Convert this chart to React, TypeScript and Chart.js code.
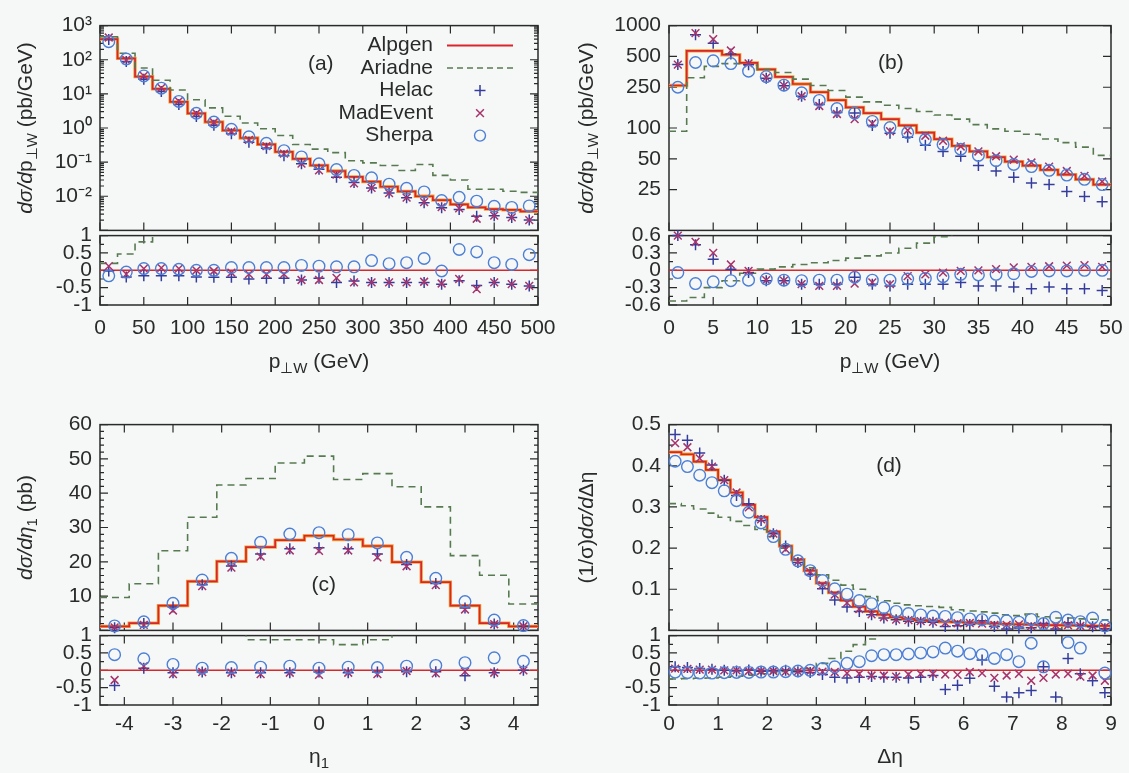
import React, { useEffect, useRef } from "react";
import { Chart, registerables } from "chart.js";

Chart.register(...registerables);

const FONT = '"Liberation Sans", Arimo, Arial, Helvetica, sans-serif';
const FS = 21;
const INK = "#2a2a2a";
const BG = "#f6f8f8";
const C_ALP = "#d8262b";
const C_ALP_HALO = "#f2a23a";
const C_ARI = "#587a50";
const C_HEL = "#353c9c";
const C_MAD = "#a8346c";
const C_SHE = "#4d7fd6";

const SERIES = ["Alpgen", "Ariadne", "Helac", "MadEvent", "Sherpa"];

// ---------------- panel (a): p_perp,W , 0-500 GeV ----------------
const ptA_edges = [0, 20, 40, 60, 80, 100, 120, 140, 160, 180, 200, 220, 240, 260, 280, 300, 320, 340, 360, 380, 400, 420, 440, 460, 480, 500];
const ptA_centers = [10, 30, 50, 70, 90, 110, 130, 150, 170, 190, 210, 230, 250, 270, 290, 310, 330, 350, 370, 390, 410, 430, 450, 470, 490];
const ptA_alpgen = [400, 110, 32, 14, 5.8, 2.7, 1.5, 0.85, 0.51, 0.33, 0.2, 0.125, 0.08, 0.055, 0.037, 0.027, 0.019, 0.014, 0.01, 0.0077, 0.0058, 0.0047, 0.0042, 0.004, 0.0036];
const ptA_ariadne = [470, 155, 57, 25, 13, 6.7, 3.9, 2.2, 1.4, 0.95, 0.6, 0.33, 0.24, 0.19, 0.11, 0.095, 0.08, 0.057, 0.085, 0.041, 0.03, 0.016, 0.016, 0.014, 0.013];
const ptA_helac = [392, 89, 26.9, 11.8, 4.9, 2.19, 1.2, 0.68, 0.38, 0.254, 0.154, 0.09, 0.0616, 0.0358, 0.0255, 0.0176, 0.0124, 0.0091, 0.0065, 0.0046, 0.0041, 0.0026, 0.0027, 0.0024, 0.002];
const ptA_madevent = [448, 98, 33.6, 15.0, 6.1, 2.7, 1.47, 0.79, 0.45, 0.294, 0.178, 0.09, 0.0576, 0.0429, 0.024, 0.0176, 0.0124, 0.0091, 0.0067, 0.0048, 0.0044, 0.0022, 0.0027, 0.0024, 0.002];
const ptA_sherpa = [336, 105, 33.6, 14.7, 6.0, 2.7, 1.5, 0.92, 0.55, 0.356, 0.216, 0.1425, 0.0896, 0.0605, 0.0407, 0.0346, 0.0226, 0.0171, 0.0134, 0.0075, 0.0093, 0.0072, 0.0051, 0.0047, 0.0052];
const ptA_rAriadne = [0.2, 0.47, 0.82, 1.1, 1.24, 1.48, 1.6, 1.59, 1.75, 1.88, 2.0, 1.64, 2.0, 2.45, 1.97, 2.5, 3.2, 3.07, 7.0, 4.3, 4.2, 2.4, 2.8, 2.5, 2.6];
const ptA_rHelac = [-0.02, -0.19, -0.16, -0.16, -0.16, -0.19, -0.2, -0.2, -0.25, -0.23, -0.23, -0.28, -0.23, -0.35, -0.31, -0.35, -0.35, -0.35, -0.35, -0.4, -0.3, -0.44, -0.35, -0.4, -0.45];
const ptA_rMadevent = [0.12, -0.11, 0.05, 0.07, 0.05, 0.0, -0.02, -0.07, -0.11, -0.11, -0.11, -0.28, -0.28, -0.22, -0.35, -0.35, -0.35, -0.35, -0.33, -0.38, -0.25, -0.54, -0.35, -0.4, -0.45];
const ptA_rSherpa = [-0.16, -0.05, 0.05, 0.05, 0.03, 0.0, 0.0, 0.08, 0.08, 0.08, 0.08, 0.14, 0.12, 0.1, 0.1, 0.28, 0.19, 0.22, 0.34, -0.02, 0.6, 0.53, 0.22, 0.17, 0.45];

// ---------------- panel (b): p_perp,W , 0-50 GeV ----------------
const ptB_edges = [0, 2, 4, 6, 8, 10, 12, 14, 16, 18, 20, 22, 24, 26, 28, 30, 32, 34, 36, 38, 40, 42, 44, 46, 48, 50];
const ptB_centers = [1, 3, 5, 7, 9, 11, 13, 15, 17, 19, 21, 23, 25, 27, 29, 31, 33, 35, 37, 39, 41, 43, 45, 47, 49];
const ptB_alpgen = [260, 566, 566, 519, 432, 373, 316, 269, 224, 187, 159, 140, 122, 106, 90, 78, 67, 59, 52, 47, 43, 39, 35, 31.5, 28];
const ptB_ariadne = [93, 310, 400, 425, 410, 373, 348, 300, 260, 232, 200, 180, 167, 155, 145, 134, 122, 108, 98, 93, 87, 78, 72, 65, 54];
const ptB_helac = [416, 815, 674, 529, 415, 306, 259, 204, 170, 142, 140, 106, 89, 81, 68, 59, 53, 43, 38, 33, 29, 28, 24, 21.4, 19];
const ptB_madevent = [416, 843, 736, 571, 428, 310, 259, 204, 164, 137, 122, 111, 93, 95, 84, 75, 66, 59, 53, 49, 46, 42, 38, 34, 30];
const ptB_sherpa = [250, 436, 453, 426, 359, 317, 262, 221, 186, 155, 140, 116, 101, 90, 77, 69, 62, 54, 48, 44, 42, 38.6, 34.7, 31.5, 28];
const ptB_rAriadne = [-0.53, -0.47, -0.3, -0.18, -0.05, 0.02, 0.06, 0.1, 0.13, 0.17, 0.21, 0.25, 0.3, 0.38, 0.47, 0.58, 0.82, 0.83, 0.88, 0.98, 1.02, 1.0, 1.06, 1.06, 0.93];
const ptB_rHelac = [0.6, 0.44, 0.19, 0.02, -0.04, -0.18, -0.18, -0.24, -0.24, -0.24, -0.12, -0.24, -0.27, -0.24, -0.24, -0.24, -0.21, -0.27, -0.27, -0.29, -0.32, -0.29, -0.32, -0.32, -0.35];
const ptB_rMadevent = [0.6, 0.49, 0.3, 0.1, -0.01, -0.17, -0.18, -0.24, -0.27, -0.27, -0.23, -0.21, -0.24, -0.1, -0.07, -0.04, -0.01, 0.0, 0.02, 0.05, 0.06, 0.07, 0.08, 0.09, 0.06];
const ptB_rSherpa = [-0.04, -0.23, -0.2, -0.18, -0.17, -0.15, -0.17, -0.18, -0.17, -0.17, -0.12, -0.17, -0.17, -0.15, -0.14, -0.11, -0.07, -0.08, -0.07, -0.06, -0.02, -0.01, -0.01, 0.0, 0.0];

// ---------------- panel (c): eta_1 ----------------
const etaC_edges = [-4.5, -3.9, -3.3, -2.7, -2.1, -1.5, -0.9, -0.3, 0.3, 0.9, 1.5, 2.1, 2.7, 3.3, 3.9, 4.5];
const etaC_centers = [-4.2, -3.6, -3.0, -2.4, -1.8, -1.2, -0.6, 0, 0.6, 1.2, 1.8, 2.4, 3.0, 3.6, 4.2];
const etaC_alpgen = [1.2, 2.1, 7.2, 14.3, 20.1, 24.3, 26.3, 27.6, 26.5, 24.6, 19.9, 14.1, 7.2, 2.1, 1.2];
const etaC_ariadne = [9.6, 13.6, 23.2, 33.0, 42.4, 44.3, 48.8, 50.8, 44.0, 45.7, 41.9, 36.0, 21.8, 16.1, 7.7];
const etaC_helac = [0.8, 2.0, 6.8, 13.3, 18.8, 22.3, 23.8, 24.1, 23.8, 22.3, 19.2, 13.7, 6.5, 1.9, 1.2];
const etaC_madevent = [0.9, 1.6, 5.8, 12.9, 18.3, 21.5, 23.3, 23.2, 23.3, 21.3, 18.7, 13.2, 6.1, 1.8, 1.2];
const etaC_sherpa = [1.3, 2.5, 7.9, 14.7, 21.0, 25.7, 28.1, 28.5, 27.9, 25.5, 21.3, 15.2, 8.4, 3.0, 1.4];
const etaC_rAriadne = [7.0, 5.5, 2.2, 1.3, 1.1, 0.88, 0.88, 0.88, 0.74, 0.88, 1.1, 1.55, 2.0, 6.7, 5.4];
const etaC_rHelac = [-0.44, 0.06, -0.07, -0.05, -0.07, -0.07, -0.07, -0.05, -0.07, -0.05, -0.04, -0.04, -0.16, -0.07, 0.0];
const etaC_rMadevent = [-0.28, 0.12, -0.11, -0.05, -0.07, -0.11, -0.07, -0.13, -0.07, -0.11, -0.02, -0.09, -0.04, -0.07, 0.0];
const etaC_rSherpa = [0.45, 0.33, 0.17, 0.06, 0.08, 0.09, 0.12, 0.06, 0.09, 0.08, 0.12, 0.14, 0.22, 0.36, 0.26];

// ---------------- panel (d): delta eta ----------------
const detaD_edges = [0, 0.25, 0.5, 0.75, 1, 1.25, 1.5, 1.75, 2, 2.25, 2.5, 2.75, 3, 3.25, 3.5, 3.75, 4, 4.25, 4.5, 4.75, 5, 5.25, 5.5, 5.75, 6, 6.25, 6.5, 6.75, 7, 7.25, 7.5, 7.75, 8, 8.25, 8.5, 8.75, 9];
const detaD_centers = [0.125, 0.375, 0.625, 0.875, 1.125, 1.375, 1.625, 1.875, 2.125, 2.375, 2.625, 2.875, 3.125, 3.375, 3.625, 3.875, 4.125, 4.375, 4.625, 4.875, 5.125, 5.375, 5.625, 5.875, 6.125, 6.375, 6.625, 6.875, 7.125, 7.375, 7.625, 7.875, 8.125, 8.375, 8.625, 8.875];
const detaD_alpgen = [0.433, 0.428, 0.41, 0.39, 0.365, 0.335, 0.305, 0.275, 0.24, 0.205, 0.172, 0.145, 0.115, 0.092, 0.073, 0.058, 0.046, 0.038, 0.032, 0.028, 0.025, 0.023, 0.021, 0.02, 0.019, 0.018, 0.017, 0.016, 0.015, 0.014, 0.013, 0.013, 0.012, 0.012, 0.011, 0.011];
const detaD_ariadne = [0.308, 0.303, 0.295, 0.285, 0.275, 0.265, 0.255, 0.245, 0.228, 0.2, 0.172, 0.152, 0.135, 0.122, 0.11, 0.1, 0.082, 0.072, 0.066, 0.062, 0.06, 0.058, 0.056, 0.05, 0.047, 0.045, 0.042, 0.038, 0.036, 0.04, 0.033, 0.03, 0.03, 0.028, 0.027, 0.026];
const detaD_helac = [0.476, 0.462, 0.431, 0.402, 0.365, 0.328, 0.308, 0.267, 0.235, 0.205, 0.165, 0.136, 0.101, 0.074, 0.057, 0.046, 0.038, 0.03, 0.026, 0.022, 0.02, 0.0196, 0.0095, 0.0114, 0.0146, 0.0234, 0.0092, 0.0037, 0.0056, 0.0063, 0.0165, 0.0032, 0.0188, 0.0117, 0.0091, 0.0042];
const detaD_madevent = [0.455, 0.445, 0.418, 0.398, 0.365, 0.335, 0.299, 0.27, 0.235, 0.197, 0.167, 0.142, 0.11, 0.087, 0.067, 0.052, 0.039, 0.032, 0.026, 0.025, 0.0225, 0.0207, 0.0185, 0.0174, 0.018, 0.0166, 0.0133, 0.0136, 0.0144, 0.0105, 0.0117, 0.0123, 0.0126, 0.0107, 0.011, 0.0084];
const detaD_sherpa = [0.411, 0.398, 0.377, 0.359, 0.339, 0.315, 0.287, 0.261, 0.228, 0.197, 0.169, 0.145, 0.121, 0.101, 0.088, 0.0725, 0.065, 0.055, 0.046, 0.041, 0.0375, 0.035, 0.034, 0.031, 0.028, 0.026, 0.0228, 0.0232, 0.02, 0.0267, 0.0165, 0.032, 0.025, 0.0213, 0.03, 0.011];
const detaD_rAriadne = [-0.25, -0.24, -0.23, -0.22, -0.2, -0.17, -0.14, -0.1, -0.06, -0.03, 0.0, 0.05, 0.2, 0.34, 0.55, 0.74, 0.9, 1.3, 1.4, 1.5, 1.6, 1.5, 1.6, 1.5, 1.5, 1.5, 1.5, 1.4, 1.2, 1.5, 1.2, 1.1, 1.1, 1.1, 1.1, 1.1];
const detaD_rHelac = [0.1, 0.08, 0.05, 0.03, 0.0, -0.02, 0.01, -0.03, -0.02, 0.0, -0.04, -0.06, -0.12, -0.2, -0.22, -0.2, -0.18, -0.2, -0.2, -0.22, -0.2, -0.15, -0.55, -0.43, -0.23, 0.3, -0.46, -0.77, -0.65, -0.58, 0.1, -0.77, 0.34, -0.1, -0.3, -0.65];
const detaD_rMadevent = [0.05, 0.04, 0.02, 0.02, 0.0, 0.0, -0.02, -0.02, -0.02, -0.04, -0.03, -0.02, -0.04, -0.05, -0.08, -0.1, -0.15, -0.15, -0.18, -0.12, -0.1, -0.1, -0.12, -0.13, -0.05, -0.08, -0.22, -0.15, -0.1, -0.3, -0.22, -0.12, -0.1, -0.18, -0.15, -0.3];
const detaD_rSherpa = [-0.05, -0.07, -0.08, -0.08, -0.07, -0.06, -0.06, -0.05, -0.05, -0.04, -0.02, 0.0, 0.05, 0.1, 0.2, 0.25, 0.42, 0.45, 0.45, 0.47, 0.5, 0.53, 0.64, 0.55, 0.48, 0.45, 0.34, 0.45, 0.25, 0.78, 0.1, 1.6, 0.8, 0.64, 1.6, -0.08];

// ---------------- tick values ----------------
const ticksA_x = [0, 50, 100, 150, 200, 250, 300, 350, 400, 450, 500];
const ticksA_y = [0.01, 0.1, 1, 10, 100, 1000];
const ticksB_x = [0, 5, 10, 15, 20, 25, 30, 35, 40, 45, 50];
const ticksB_y = [25, 50, 100, 250, 500, 1000];
const ticksC_x = [-4, -3, -2, -1, 0, 1, 2, 3, 4];
const ticksC_y = [10, 20, 30, 40, 50, 60];
const ticksD_x = [0, 1, 2, 3, 4, 5, 6, 7, 8, 9];
const ticksD_y = [0.1, 0.2, 0.3, 0.4, 0.5];
const ticksRatio = [-1, -0.5, 0, 0.5, 1];
const ticksRatioB = [-0.6, -0.3, 0, 0.3, 0.6];

// ---------------- helpers ----------------
const range = (a: number, b: number, s: number) => {
  const out: number[] = [];
  for (let v = a; v <= b + 1e-9; v += s) out.push(Math.round(v * 1e6) / 1e6);
  return out;
};
const logMinor = (e0: number, e1: number) => {
  const out: number[] = [];
  for (let e = e0; e < e1; e++) for (let k = 2; k <= 9; k++) out.push(k * Math.pow(10, e));
  return out;
};
const SUP: any = { "-": "\u207B", "0": "\u2070", "1": "\u00B9", "2": "\u00B2", "3": "\u00B3", "4": "\u2074", "5": "\u2075", "6": "\u2076", "7": "\u2077", "8": "\u2078", "9": "\u2079" };
const fmtPow = (v: number) => "10" + String(Math.round(Math.log10(v))).split("").map((c) => SUP[c]).join("");
const fmtNum = (v: number) => String(Math.round(v * 1000) / 1000);

type Seg = { t: string; it?: boolean; sub?: boolean };

function segFont(s: Seg, size: number) {
  const sz = s.sub ? Math.round(size * 0.72) : size;
  return `${s.it ? "italic " : ""}${sz}px ${FONT}`;
}
function drawRich(ctx: any, segs: Seg[], x: number, y: number, size: number, rotate: boolean) {
  ctx.save();
  ctx.translate(x, y);
  if (rotate) ctx.rotate(-Math.PI / 2);
  ctx.textBaseline = "middle";
  ctx.textAlign = "left";
  ctx.fillStyle = INK;
  let w = 0;
  for (const s of segs) {
    ctx.font = segFont(s, size);
    w += ctx.measureText(s.t).width;
  }
  let cx = -w / 2;
  for (const s of segs) {
    ctx.font = segFont(s, size);
    ctx.fillText(s.t, cx, s.sub ? size * 0.32 : 0);
    cx += ctx.measureText(s.t).width;
  }
  ctx.restore();
}

const steps = (edges: number[], vals: number[]) => {
  const p = vals.map((v, i) => ({ x: edges[i], y: v }));
  p.push({ x: edges[vals.length], y: vals[vals.length - 1] });
  return p;
};
const pts = (xs: number[], ys: number[]) => xs.map((x, i) => ({ x, y: ys[i] }));

function markerSets(xs: number[], h: number[], m: number[], s: number[]) {
  const common = { showLine: false, pointRadius: 5.5, pointHoverRadius: 5.5, pointBorderWidth: 1.5, pointBackgroundColor: "rgba(0,0,0,0)", backgroundColor: "rgba(0,0,0,0)", clip: 8 };
  return [
    { ...common, label: SERIES[4], data: pts(xs, s), pointStyle: "circle", borderColor: C_SHE, pointBorderColor: C_SHE, pointBorderWidth: 1.4, pointRadius: 5.8 },
    { ...common, label: SERIES[3], data: pts(xs, m), pointStyle: "crossRot", borderColor: C_MAD, pointBorderColor: C_MAD },
    { ...common, label: SERIES[2], data: pts(xs, h), pointStyle: "cross", borderColor: C_HEL, pointBorderColor: C_HEL },
  ];
}
function lineSet(label: string, data: any[], color: string, width: number, dash: number[], stepped: boolean) {
  return { label, data, showLine: true, stepped, borderColor: color, borderWidth: width, borderDash: dash, pointRadius: 0, pointHoverRadius: 0, fill: false, clip: 0, backgroundColor: color };
}

// ---------------- layout ----------------
const YW = 100;
const PAD_T = 18;
const PAD_R = 40;
const PAD_B = 18;
const XAXIS_H = 75;

type Panel = any;

const PANELS: Panel[] = [
  {
    id: "a", x0: 100, x1: 538, yTop: 23, yDiv: 233, yBot: 305, xLabPad: 11, xTitleDy: 57,
    xMin: 0, xMax: 500, xLabels: ticksA_x, xMinor: [],
    mainType: "logarithmic", mainMin: 1e-3, mainMax: 1e3, mainLabels: ticksA_y, mainMajor: [1e-3, 1e-2, 1e-1, 1, 10, 100, 1000], mainMinor: logMinor(-3, 3), mainFmt: fmtPow,
    ratioMin: -1, ratioMax: 1, ratioLabels: ticksRatio, ratioMinor: [-0.75, -0.25, 0.25, 0.75],
    edges: ptA_edges, centers: ptA_centers,
    alpgen: ptA_alpgen, ariadne: ptA_ariadne, helac: ptA_helac, madevent: ptA_madevent, sherpa: ptA_sherpa,
    rAriadne: ptA_rAriadne, rHelac: ptA_rHelac, rMadevent: ptA_rMadevent, rSherpa: ptA_rSherpa,
    yTitle: [{ t: "d\u03C3/d", it: true }, { t: "p" }, { t: "\u22A5W", sub: true }, { t: " (pb/GeV)" }], yTitleDx: -74,
    xTitle: [{ t: "p" }, { t: "\u22A5W", sub: true }, { t: " (GeV)" }],
    tag: "(a)", tagX: 252, tagY: 72, legend: true,
  },
  {
    id: "b", x0: 669, x1: 1111, yTop: 23, yDiv: 233, yBot: 305, xLabPad: 11, xTitleDy: 57,
    xMin: 0, xMax: 50, xLabels: ticksB_x, xMinor: [],
    mainType: "logarithmic", mainMin: 10, mainMax: 1000, mainLabels: ticksB_y, mainMajor: ticksB_y, mainMinor: [], mainFmt: fmtNum,
    ratioMin: -0.6, ratioMax: 0.6, ratioLabels: ticksRatioB, ratioMinor: [-0.45, -0.15, 0.15, 0.45],
    edges: ptB_edges, centers: ptB_centers,
    alpgen: ptB_alpgen, ariadne: ptB_ariadne, helac: ptB_helac, madevent: ptB_madevent, sherpa: ptB_sherpa,
    rAriadne: ptB_rAriadne, rHelac: ptB_rHelac, rMadevent: ptB_rMadevent, rSherpa: ptB_rSherpa,
    yTitle: [{ t: "d\u03C3/d", it: true }, { t: "p" }, { t: "\u22A5W", sub: true }, { t: " (pb/GeV)" }], yTitleDx: -82,
    xTitle: [{ t: "p" }, { t: "\u22A5W", sub: true }, { t: " (GeV)" }],
    tag: "(b)", tagX: 25.1, tagY: 434, legend: false,
  },
  {
    id: "c", x0: 100, x1: 538, yTop: 422, yDiv: 633, yBot: 705, xLabPad: 7, xTitleDy: 52,
    xMin: -4.5, xMax: 4.5, xLabels: ticksC_x, xMinor: [],
    mainType: "linear", mainMin: 0, mainMax: 60, mainLabels: ticksC_y, mainMajor: range(0, 60, 10), mainMinor: range(2, 58, 2).filter((v) => v % 10 !== 0), mainFmt: fmtNum,
    ratioMin: -1, ratioMax: 1, ratioLabels: ticksRatio, ratioMinor: [-0.75, -0.25, 0.25, 0.75],
    edges: etaC_edges, centers: etaC_centers,
    alpgen: etaC_alpgen, ariadne: etaC_ariadne, helac: etaC_helac, madevent: etaC_madevent, sherpa: etaC_sherpa,
    rAriadne: etaC_rAriadne, rHelac: etaC_rHelac, rMadevent: etaC_rMadevent, rSherpa: etaC_rSherpa,
    yTitle: [{ t: "d\u03C3/d\u03B7", it: true }, { t: "1", sub: true }, { t: " (pb)" }], yTitleDx: -74,
    xTitle: [{ t: "\u03B7" }, { t: "1", sub: true }],
    tag: "(c)", tagX: 0.1, tagY: 13.3, legend: false,
  },
  {
    id: "d", x0: 669, x1: 1111, yTop: 422, yDiv: 633, yBot: 705, xLabPad: 7, xTitleDy: 52,
    xMin: 0, xMax: 9, xLabels: ticksD_x, xMinor: [],
    mainType: "linear", mainMin: 0, mainMax: 0.5, mainLabels: ticksD_y, mainMajor: range(0, 0.5, 0.1), mainMinor: [0.05, 0.15, 0.25, 0.35, 0.45], mainFmt: fmtNum,
    ratioMin: -1, ratioMax: 1, ratioLabels: ticksRatio, ratioMinor: [-0.75, -0.25, 0.25, 0.75],
    edges: detaD_edges, centers: detaD_centers,
    alpgen: detaD_alpgen, ariadne: detaD_ariadne, helac: detaD_helac, madevent: detaD_madevent, sherpa: detaD_sherpa,
    rAriadne: detaD_rAriadne, rHelac: detaD_rHelac, rMadevent: detaD_rMadevent, rSherpa: detaD_rSherpa,
    yTitle: [{ t: "(1/\u03C3)" }, { t: "d\u03C3/d", it: true }, { t: "\u0394\u03B7" }], yTitleDx: -82,
    xTitle: [{ t: "\u0394\u03B7" }],
    tag: "(d)", tagX: 4.48, tagY: 0.4, legend: false,
  },
];

function geom(p: Panel) {
  const w = YW + (p.x1 - p.x0) + PAD_R;
  return {
    left: p.x0 - YW,
    w,
    mTop: p.yTop - PAD_T,
    mH: PAD_T + (p.yDiv - p.yTop) + PAD_B,
    rTop: p.yDiv - PAD_T,
    rH: PAD_T + (p.yBot - p.yDiv) + XAXIS_H,
  };
}

function tickFont() {
  return { family: FONT, size: FS };
}

function yScale(type: string, min: number, max: number, labels: number[], fmt: (v: number) => string) {
  return {
    type, min, max, position: "left",
    afterBuildTicks: (s: any) => { s.ticks = labels.map((v) => ({ value: v })); },
    afterFit: (s: any) => { s.width = YW; },
    grid: { display: false, drawTicks: false },
    border: { display: false },
    ticks: { autoSkip: false, padding: 8, color: INK, font: tickFont(), callback: (v: any) => fmt(Number(v)) },
  };
}

function legendDraw(ctx: any, a: any) {
  const textRight = a.left + 333;
  const s0 = a.left + 347;
  const s1 = a.left + 413;
  const cx = a.left + 380;
  SERIES.forEach((name, i) => {
    const y = a.top + 20 + i * 22.5;
    ctx.save();
    ctx.font = `${FS}px ${FONT}`;
    ctx.fillStyle = INK;
    ctx.textAlign = "right";
    ctx.textBaseline = "middle";
    ctx.fillText(name, textRight, y);
    ctx.lineWidth = 1.5;
    if (i === 0) {
      ctx.strokeStyle = C_ALP; ctx.lineWidth = 2;
      ctx.beginPath(); ctx.moveTo(s0, y); ctx.lineTo(s1, y); ctx.stroke();
    } else if (i === 1) {
      ctx.strokeStyle = C_ARI; ctx.setLineDash([6, 4]);
      ctx.beginPath(); ctx.moveTo(s0, y); ctx.lineTo(s1, y); ctx.stroke();
    } else if (i === 2) {
      ctx.strokeStyle = C_HEL;
      ctx.beginPath(); ctx.moveTo(cx - 5.5, y); ctx.lineTo(cx + 5.5, y); ctx.moveTo(cx, y - 5.5); ctx.lineTo(cx, y + 5.5); ctx.stroke();
    } else if (i === 3) {
      ctx.strokeStyle = C_MAD; const r = 3.9;
      ctx.beginPath(); ctx.moveTo(cx - r, y - r); ctx.lineTo(cx + r, y + r); ctx.moveTo(cx - r, y + r); ctx.lineTo(cx + r, y - r); ctx.stroke();
    } else {
      ctx.strokeStyle = C_SHE; ctx.lineWidth = 1.4;
      ctx.beginPath(); ctx.arc(cx, y, 5.5, 0, Math.PI * 2); ctx.stroke();
    }
    ctx.restore();
  });
}

function framePlugin(spec: any) {
  return {
    id: "frame_" + spec.key,
    beforeDatasetsDraw(chart: any) {
      const { ctx, chartArea: a } = chart;
      const xs = chart.scales.x;
      const ys = chart.scales.y;
      ctx.save();
      ctx.strokeStyle = INK;
      ctx.lineWidth = 1.2;
      ctx.beginPath();
      const vx = (vals: number[], len: number) => vals.forEach((v) => {
        const p = xs.getPixelForValue(v);
        ctx.moveTo(p, a.bottom); ctx.lineTo(p, a.bottom - len);
        ctx.moveTo(p, a.top); ctx.lineTo(p, a.top + len);
      });
      const vy = (vals: number[], len: number) => vals.forEach((v) => {
        const p = ys.getPixelForValue(v);
        ctx.moveTo(a.left, p); ctx.lineTo(a.left + len, p);
        ctx.moveTo(a.right, p); ctx.lineTo(a.right - len, p);
      });
      vx(spec.xMajor, 8); vx(spec.xMinor, 4);
      vy(spec.yMajor, 8); vy(spec.yMinor, 4);
      ctx.stroke();
      ctx.lineWidth = 1.5;
      ctx.strokeRect(a.left, a.top, a.right - a.left, a.bottom - a.top);
      ctx.restore();
    },
    afterDatasetsDraw(chart: any) {
      const { ctx, chartArea: a } = chart;
      if (spec.yTitle) drawRich(ctx, spec.yTitle, a.left + spec.yTitleDx, (a.top + a.bottom) / 2, FS, true);
      if (spec.xTitle) drawRich(ctx, spec.xTitle, (a.left + a.right) / 2, a.bottom + spec.xTitleDy, FS, false);
      if (spec.tag) {
        ctx.save();
        ctx.font = `${FS}px ${FONT}`;
        ctx.fillStyle = INK;
        ctx.textAlign = "center";
        ctx.textBaseline = "middle";
        ctx.fillText(spec.tag, chart.scales.x.getPixelForValue(spec.tagX), chart.scales.y.getPixelForValue(spec.tagY));
        ctx.restore();
      }
      if (spec.legend) legendDraw(ctx, a);
    },
  };
}

function baseOptions(bottomPad: number) {
  return {
    responsive: false,
    maintainAspectRatio: false,
    animation: false,
    devicePixelRatio: 1,
    events: [],
    layout: { padding: { left: 0, top: PAD_T, right: PAD_R, bottom: bottomPad } },
    plugins: { legend: { display: false }, tooltip: { enabled: false }, title: { display: false } },
  };
}

function mainConfig(p: Panel): any {
  const datasets = [
    ...markerSets(p.centers, p.helac, p.madevent, p.sherpa),
    lineSet(SERIES[1], steps(p.edges, p.ariadne), C_ARI, 1.6, [7, 5], true),
    lineSet(SERIES[0], steps(p.edges, p.alpgen), C_ALP, 1.7, [], true),
    lineSet(SERIES[0] + " ", steps(p.edges, p.alpgen), C_ALP_HALO, 3.3, [], true),
  ];
  return {
    type: "scatter",
    data: { datasets },
    options: {
      ...baseOptions(PAD_B),
      scales: {
        x: { type: "linear", display: false, min: p.xMin, max: p.xMax },
        y: yScale(p.mainType, p.mainMin, p.mainMax, p.mainLabels, p.mainFmt),
      },
    },
    plugins: [framePlugin({
      key: p.id + "m", xMajor: p.xLabels, xMinor: p.xMinor, yMajor: p.mainMajor, yMinor: p.mainMinor,
      yTitle: p.yTitle, yTitleDx: p.yTitleDx, tag: p.tag, tagX: p.tagX, tagY: p.tagY, legend: p.legend,
    })],
  };
}

function ratioConfig(p: Panel): any {
  const datasets = [
    ...markerSets(p.centers, p.rHelac, p.rMadevent, p.rSherpa),
    lineSet(SERIES[1], steps(p.edges, p.rAriadne), C_ARI, 1.6, [7, 5], true),
    lineSet(SERIES[0], [{ x: p.xMin, y: 0 }, { x: p.xMax, y: 0 }], C_ALP, 1.6, [], false),
  ];
  return {
    type: "scatter",
    data: { datasets },
    options: {
      ...baseOptions(0),
      scales: {
        x: {
          type: "linear", min: p.xMin, max: p.xMax, position: "bottom",
          afterBuildTicks: (s: any) => { s.ticks = p.xLabels.map((v: number) => ({ value: v })); },
          afterFit: (s: any) => { s.height = XAXIS_H; },
          grid: { display: false, drawTicks: false },
          border: { display: false },
          ticks: { autoSkip: false, maxRotation: 0, minRotation: 0, padding: p.xLabPad, color: INK, font: tickFont(), callback: (v: any) => fmtNum(Number(v)) },
        },
        y: yScale("linear", p.ratioMin, p.ratioMax, p.ratioLabels, fmtNum),
      },
    },
    plugins: [framePlugin({
      key: p.id + "r", xMajor: p.xLabels, xMinor: p.xMinor, yMajor: p.ratioLabels, yMinor: p.ratioMinor,
      xTitle: p.xTitle, xTitleDy: p.xTitleDy,
    })],
  };
}

export default function App() {
  const refs = useRef<(HTMLCanvasElement | null)[]>([]);

  useEffect(() => {
    document.body.style.margin = "0";
    document.body.style.background = BG;
    document.body.style.overflow = "hidden";
    const charts: Chart[] = [];
    PANELS.forEach((p, i) => {
      const cm = refs.current[i * 2];
      const cr = refs.current[i * 2 + 1];
      if (cm) charts.push(new Chart(cm, mainConfig(p)));
      if (cr) charts.push(new Chart(cr, ratioConfig(p)));
    });
    return () => charts.forEach((c) => c.destroy());
  }, []);

  return (
    <div style={{ position: "absolute", left: 0, top: 0, width: 1129, height: 773, overflow: "hidden", background: BG }}>
      {PANELS.map((p, i) => {
        const g = geom(p);
        return (
          <React.Fragment key={p.id}>
            <canvas
              ref={(el) => { refs.current[i * 2] = el; }}
              width={g.w}
              height={g.mH}
              style={{ position: "absolute", left: g.left, top: g.mTop, width: g.w, height: g.mH }}
            />
            <canvas
              ref={(el) => { refs.current[i * 2 + 1] = el; }}
              width={g.w}
              height={g.rH}
              style={{ position: "absolute", left: g.left, top: g.rTop, width: g.w, height: g.rH }}
            />
          </React.Fragment>
        );
      })}
    </div>
  );
}
